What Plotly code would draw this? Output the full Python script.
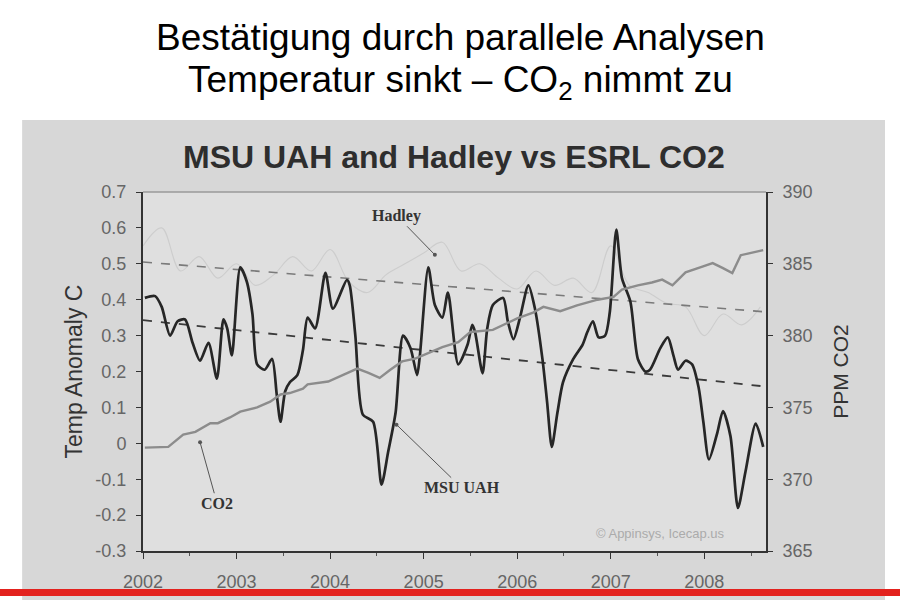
import plotly.graph_objects as go

# values (decimal years)
uah_t = [2002.02, 2002.13, 2002.20, 2002.29, 2002.37, 2002.45, 2002.53, 2002.61, 2002.70, 2002.79, 2002.86, 2002.90, 2002.95,
         2003.04, 2003.11, 2003.17, 2003.22, 2003.30, 2003.38, 2003.43, 2003.47, 2003.52, 2003.57, 2003.65, 2003.71, 2003.76, 2003.84, 2003.95,
         2004.03, 2004.18, 2004.21, 2004.27, 2004.35, 2004.46, 2004.55, 2004.62, 2004.70, 2004.78, 2004.86, 2004.93, 2004.96,
         2005.05, 2005.12, 2005.20, 2005.26, 2005.37, 2005.47, 2005.52, 2005.55, 2005.63, 2005.68, 2005.74, 2005.85, 2005.90, 2005.96,
         2006.03, 2006.12, 2006.19, 2006.27, 2006.32, 2006.37, 2006.43, 2006.49, 2006.60, 2006.70, 2006.75, 2006.81, 2006.87, 2006.94, 2006.99,
         2007.06, 2007.12, 2007.21, 2007.29, 2007.37, 2007.42, 2007.53, 2007.61, 2007.67, 2007.72, 2007.80, 2007.87, 2007.94, 2007.99,
         2008.05, 2008.14, 2008.20, 2008.28, 2008.36, 2008.44, 2008.55, 2008.63]
uah_v = [0.405, 0.41, 0.38, 0.30, 0.34, 0.345, 0.28, 0.23, 0.28, 0.18, 0.345, 0.32, 0.245,
         0.49, 0.45, 0.36, 0.22, 0.205, 0.235, 0.135, 0.06, 0.145, 0.17, 0.19, 0.26, 0.35, 0.32, 0.475,
         0.375, 0.455, 0.44, 0.30, 0.08, 0.06, -0.115, -0.025, 0.085, 0.30, 0.265, 0.19, 0.245,
         0.49, 0.385, 0.35, 0.42, 0.22, 0.275, 0.33, 0.31, 0.195, 0.32, 0.385, 0.405, 0.34, 0.29,
         0.35, 0.44, 0.375, 0.235, 0.115, -0.01, 0.085, 0.17, 0.235, 0.275, 0.31, 0.34, 0.295, 0.30, 0.365,
         0.595, 0.46, 0.395, 0.235, 0.20, 0.205, 0.265, 0.295, 0.245, 0.205, 0.23, 0.22, 0.155, 0.06,
         -0.045, 0.03, 0.09, 0.02, -0.18, -0.08, 0.055, -0.01]

# Hadley is barely visible in the scan, values are rough
hadley_t = [2002.0, 2002.2, 2002.4, 2002.6, 2002.8, 2003.0, 2003.2, 2003.4, 2003.6, 2003.8, 2004.0, 2004.2,
            2004.4, 2004.6, 2004.8, 2005.0, 2005.2, 2005.4, 2005.6, 2005.8, 2006.0, 2006.2, 2006.4, 2006.6,
            2006.8, 2007.0, 2007.2, 2007.4, 2007.6, 2007.8, 2008.0, 2008.2, 2008.4, 2008.6]
hadley_v = [0.55, 0.60, 0.48, 0.52, 0.46, 0.50, 0.44, 0.47, 0.52, 0.48, 0.54, 0.45,
            0.42, 0.47, 0.50, 0.53, 0.56, 0.48, 0.50, 0.46, 0.43, 0.48, 0.44, 0.46,
            0.42, 0.55, 0.44, 0.42, 0.39, 0.38, 0.30, 0.36, 0.33, 0.38]

co2_t = [2002.02, 2002.27, 2002.43, 2002.56, 2002.72, 2002.80, 2002.93,
         2003.04, 2003.22, 2003.36, 2003.47, 2003.57, 2003.71, 2003.76, 2003.98,
         2004.16, 2004.29, 2004.41, 2004.53, 2004.64, 2004.77, 2004.91,
         2005.05, 2005.20, 2005.37, 2005.50, 2005.74,
         2006.00, 2006.17, 2006.28, 2006.46, 2006.64, 2006.86,
         2007.03, 2007.12, 2007.29, 2007.44, 2007.55, 2007.66, 2007.80, 2007.98,
         2008.09, 2008.20, 2008.30, 2008.39, 2008.51, 2008.63]
co2_v = [372.2, 372.25, 373.1, 373.3, 373.9, 373.9, 374.3,
         374.7, 375.0, 375.4, 375.9, 376.0, 376.3, 376.6, 376.8,
         377.3, 377.7, 377.4, 377.05, 377.6, 378.2, 378.4,
         378.8, 379.2, 379.55, 380.25, 380.4,
         381.2, 381.6, 382.0, 381.7, 382.1, 382.5,
         382.7, 383.2, 383.5, 383.7, 383.9, 383.5, 384.4, 384.8,
         385.05, 384.7, 384.35, 385.6, 385.8, 385.95]

trend_t = [2002.0, 2008.66]
hadley_trend = [0.505, 0.366]
uah_trend = [0.343, 0.158]

years = [2002, 2003, 2004, 2005, 2006, 2007, 2008]
temp_ticks = [0.7, 0.6, 0.5, 0.4, 0.3, 0.2, 0.1, 0, -0.1, -0.2, -0.3]
temp_labels = ["0.7", "0.6", "0.5", "0.4", "0.3", "0.2", "0.1", "0", "-0.1", "-0.2", "-0.3"]
ppm_ticks = [365, 370, 375, 380, 385, 390]

FONT = "Liberation Sans, Arial, sans-serif"
SERIF = "Liberation Serif, Times New Roman, serif"

data = [
    go.Scatter(x=hadley_t, y=hadley_v, mode="lines", line=dict(color="#cdcdcd", width=1.1, shape="spline")),
    go.Scatter(x=trend_t, y=hadley_trend, mode="lines", line=dict(color="#7a7a7a", width=1.6, dash="dash")),
    go.Scatter(x=trend_t, y=uah_trend, mode="lines", line=dict(color="#3a3a3a", width=1.8, dash="dash")),
    go.Scatter(x=co2_t, y=co2_v, yaxis="y2", mode="lines", line=dict(color="#8c8c8c", width=2.4)),
    go.Scatter(x=uah_t, y=uah_v, mode="lines", line=dict(color="#262626", width=2.7, shape="spline", smoothing=0.7)),
]

axis_font = dict(family=FONT, size=18, color="#666666")

layout = go.Layout(
    width=900, height=600,
    margin=dict(l=143, r=134, t=192, b=49),
    paper_bgcolor="white",
    plot_bgcolor="rgba(0,0,0,0)",
    showlegend=False,
    xaxis=dict(
        range=[2002, 2008.66], tickvals=years, ticks="outside", ticklen=6, tickcolor="#333",
        showline=True, linecolor="#333", linewidth=2, showgrid=False, zeroline=False,
        tickfont=axis_font, ticklabelstandoff=7, automargin=False,
        minor=dict(dtick=0.5, tick0=2002, ticks="outside", ticklen=3, tickcolor="#555"),
    ),
    yaxis=dict(
        range=[-0.3, 0.7], tickvals=temp_ticks, ticktext=temp_labels, ticks="outside", ticklen=5,
        tickcolor="#333", showline=True, linecolor="#333", linewidth=2, showgrid=False, zeroline=False,
        tickfont=axis_font, ticklabelstandoff=6, automargin=False,
        title=dict(text="Temp Anomaly C", font=dict(family=FONT, size=23, color="#333"), standoff=6),
    ),
    yaxis2=dict(
        range=[365, 390], tickvals=ppm_ticks, overlaying="y", side="right", ticks="outside", ticklen=5,
        tickcolor="#333", showline=True, linecolor="#333", linewidth=2, showgrid=False, zeroline=False,
        tickfont=axis_font, ticklabelstandoff=6, automargin=False,
        title=dict(text="PPM CO2", font=dict(family=FONT, size=21, color="#333"), standoff=22),
    ),
    shapes=[
        dict(type="rect", xref="paper", yref="paper", x0=-0.194, x1=1.191, y0=-0.14, y1=1.2006,
             fillcolor="#d7d7d7", line=dict(width=0), layer="below"),
        dict(type="rect", xref="paper", yref="paper", x0=0, x1=1, y0=0, y1=1,
             fillcolor="#dfdfdf", line=dict(width=0), layer="below"),
        dict(type="line", xref="paper", yref="paper", x0=0, x1=1, y0=1, y1=1,
             line=dict(color="#9a9a9a", width=1.5)),
        dict(type="rect", xref="paper", yref="paper", x0=-0.23, x1=1.216, y0=-0.1253, y1=-0.1058,
             fillcolor="#e3221e", line=dict(width=0), layer="above"),
    ],
    annotations=[
        dict(text="Bestätigung durch parallele Analysen", xref="paper", yref="paper", x=0.510, y=1.431,
             xanchor="center", yanchor="middle", showarrow=False, font=dict(family=FONT, size=37, color="black")),
        dict(text="Temperatur sinkt – CO<sub>2</sub> nimmt zu", xref="paper", yref="paper", x=0.510, y=1.306,
             xanchor="center", yanchor="middle", showarrow=False, font=dict(family=FONT, size=37, color="black")),
        dict(text="<b>MSU UAH and Hadley vs ESRL CO2</b>", xref="paper", yref="paper", x=0.499, y=1.0975,
             xanchor="center", yanchor="middle", showarrow=False, font=dict(family=FONT, size=32, color="#2e2e2e")),
        dict(text="<b>Hadley</b>", x=2005.12, y=0.525, ax=-38, ay=-39, showarrow=True, arrowhead=6,
             arrowsize=1, arrowwidth=1, arrowcolor="#555", font=dict(family=SERIF, size=16, color="#333")),
        dict(text="<b>MSU UAH</b>", x=2004.71, y=0.052, ax=65, ay=63, showarrow=True, arrowhead=6,
             arrowsize=1, arrowwidth=1, arrowcolor="#555", font=dict(family=SERIF, size=16, color="#333")),
        dict(text="<b>CO2</b>", x=2002.61, y=0.003, ax=17, ay=61, showarrow=True, arrowhead=6,
             arrowsize=1, arrowwidth=1, arrowcolor="#555", font=dict(family=SERIF, size=16, color="#333")),
        dict(text="© Appinsys, Icecap.us", xref="paper", yref="paper", x=0.83, y=0.05,
             xanchor="center", yanchor="middle", showarrow=False, font=dict(family=FONT, size=13, color="#ababab")),
    ],
)

fig = go.Figure(data=data, layout=layout)
# drop the default 8px body margin so the figure sits at the window corner
fig.write_html("out.html", config={"displayModeBar": False},
               post_script="document.body.style.margin = '0';")
